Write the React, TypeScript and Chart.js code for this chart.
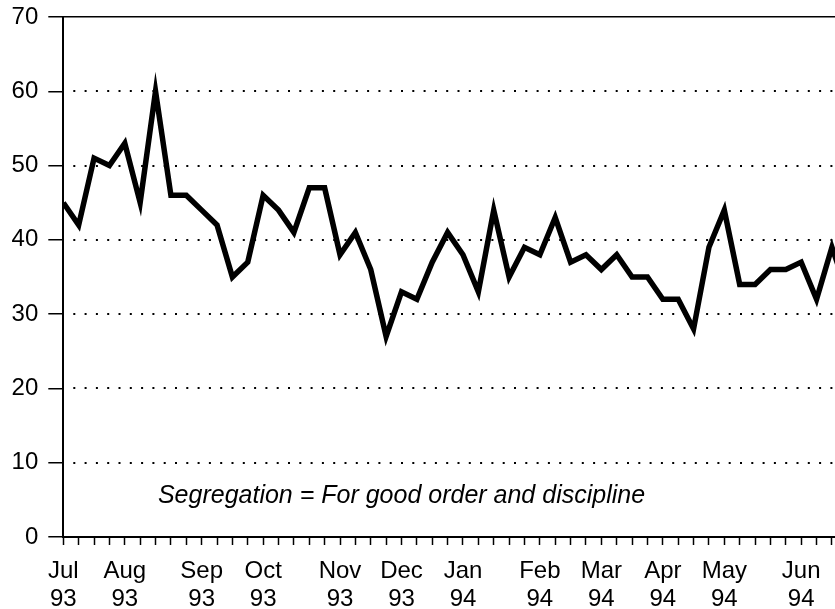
import React, { useEffect, useRef } from 'react';
import { Chart, registerables } from 'chart.js';

Chart.register(...registerables);

// Weekly values, Jul 93 - Jun 94 (one value per week)
const weeklyValues = [
  45, 42, 51, 50, 53, 45, 60, 46, 46, 44,
  42, 35, 37, 46, 44, 41, 47, 47, 38, 41,
  36, 27, 33, 32, 37, 41, 38, 33, 44, 35,
  39, 38, 43, 37, 38, 36, 38, 35, 35, 32,
  32, 28, 39, 44, 34, 34, 36, 36, 37, 32,
  39, 33,
];

// Week index at which each month label sits
const monthTickIndex = [0, 4, 9, 13, 18, 22, 26, 31, 35, 39, 43, 48];
const monthLabels = ['Jul', 'Aug', 'Sep', 'Oct', 'Nov', 'Dec', 'Jan', 'Feb', 'Mar', 'Apr', 'May', 'Jun'];
const yearLabels = ['93', '93', '93', '93', '93', '93', '94', '94', '94', '94', '94', '94'];

const yTicks = [0, 10, 20, 30, 40, 50, 60, 70];
const dottedGridValues = [10, 20, 30, 40, 50, 60];

const annotationText = 'Segregation = For good order and discipline';
const annotationAt = { x: 22, y: 5.5 };

const FONT = "'Liberation Sans', Arial, Helvetica, sans-serif";

const dottedGridPlugin = {
  id: 'dottedGrid',
  beforeDatasetsDraw(chart: any) {
    const { ctx, scales, chartArea } = chart;
    ctx.save();
    ctx.strokeStyle = '#000';
    ctx.lineWidth = 2;
    ctx.setLineDash([2, 9.3]);
    ctx.lineDashOffset = -10;
    dottedGridValues.forEach((v) => {
      const py = Math.round(scales.y.getPixelForValue(v));
      ctx.beginPath();
      ctx.moveTo(chartArea.left, py);
      ctx.lineTo(chartArea.right, py);
      ctx.stroke();
    });
    ctx.restore();
  },
};

const annotationPlugin = {
  id: 'annotationText',
  afterDatasetsDraw(chart: any) {
    const { ctx, scales } = chart;
    const px = scales.x.getPixelForValue(annotationAt.x);
    const py = scales.y.getPixelForValue(annotationAt.y);
    ctx.save();
    ctx.font = `italic 25px ${FONT}`;
    ctx.fillStyle = '#000';
    ctx.textAlign = 'center';
    ctx.textBaseline = 'middle';
    ctx.fillText(annotationText, px, py);
    ctx.restore();
  },
};

export default function App() {
  const canvasRef = useRef<HTMLCanvasElement | null>(null);

  useEffect(() => {
    document.body.style.margin = '0';
    const canvas = canvasRef.current;
    if (!canvas) return;

    const points = weeklyValues.map((v, i) => ({ x: i, y: v }));

    const chart = new Chart(canvas, {
      type: 'line',
      data: {
        datasets: [
          {
            data: points,
            borderColor: '#000',
            borderWidth: 5.5,
            borderJoinStyle: 'miter',
            pointRadius: 0,
            tension: 0,
            fill: false,
          },
        ],
      },
      options: {
        animation: false,
        responsive: false,
        devicePixelRatio: 1,
        layout: { padding: { top: 17, right: 0, bottom: 0, left: 0 } },
        plugins: {
          legend: { display: false },
          tooltip: { enabled: false },
          title: { display: false },
        },
        font: { family: FONT },
        scales: {
          x: {
            type: 'linear',
            min: 0,
            max: 50.2,
            border: { display: true, color: '#000', width: 2 },
            grid: {
              drawOnChartArea: false,
              drawTicks: true,
              tickLength: 8,
              tickColor: '#000',
              tickWidth: 1.5,
            },
            ticks: {
              stepSize: 1,
              autoSkip: false,
              includeBounds: false,
              maxRotation: 0,
              minRotation: 0,
              padding: 12,
              color: '#000',
              font: { family: FONT, size: 24, lineHeight: 1.167 },
              callback: (value: any) => {
                const idx = monthTickIndex.indexOf(Number(value));
                return idx >= 0 ? [monthLabels[idx], yearLabels[idx]] : '';
              },
            },
            afterFit: (scale: any) => {
              scale.height = 72;
              scale.paddingLeft = 0;
              scale.paddingRight = 0;
            },
          },
          y: {
            type: 'linear',
            min: 0,
            max: 70,
            border: { display: true, color: '#000', width: 2 },
            grid: {
              drawOnChartArea: true,
              drawTicks: true,
              tickLength: 15,
              tickColor: '#000',
              tickWidth: 1.5,
              color: (ctx: any) => (ctx.tick && ctx.tick.value === 70 ? '#000' : 'rgba(0,0,0,0)'),
              lineWidth: 1.5,
            },
            afterBuildTicks: (scale: any) => {
              scale.ticks = yTicks.map((v) => ({ value: v }));
            },
            ticks: {
              padding: 10,
              color: '#000',
              font: { family: FONT, size: 24 },
            },
            afterFit: (scale: any) => {
              scale.width = 63.3;
              scale.paddingTop = 0;
              scale.paddingBottom = 0;
            },
          },
        },
      } as any,
      plugins: [dottedGridPlugin, annotationPlugin],
    });

    return () => {
      chart.destroy();
    };
  }, []);

  return (
    <div style={{ width: 835, height: 609, background: '#fff' }}>
      <canvas ref={canvasRef} width={835} height={609} />
    </div>
  );
}
